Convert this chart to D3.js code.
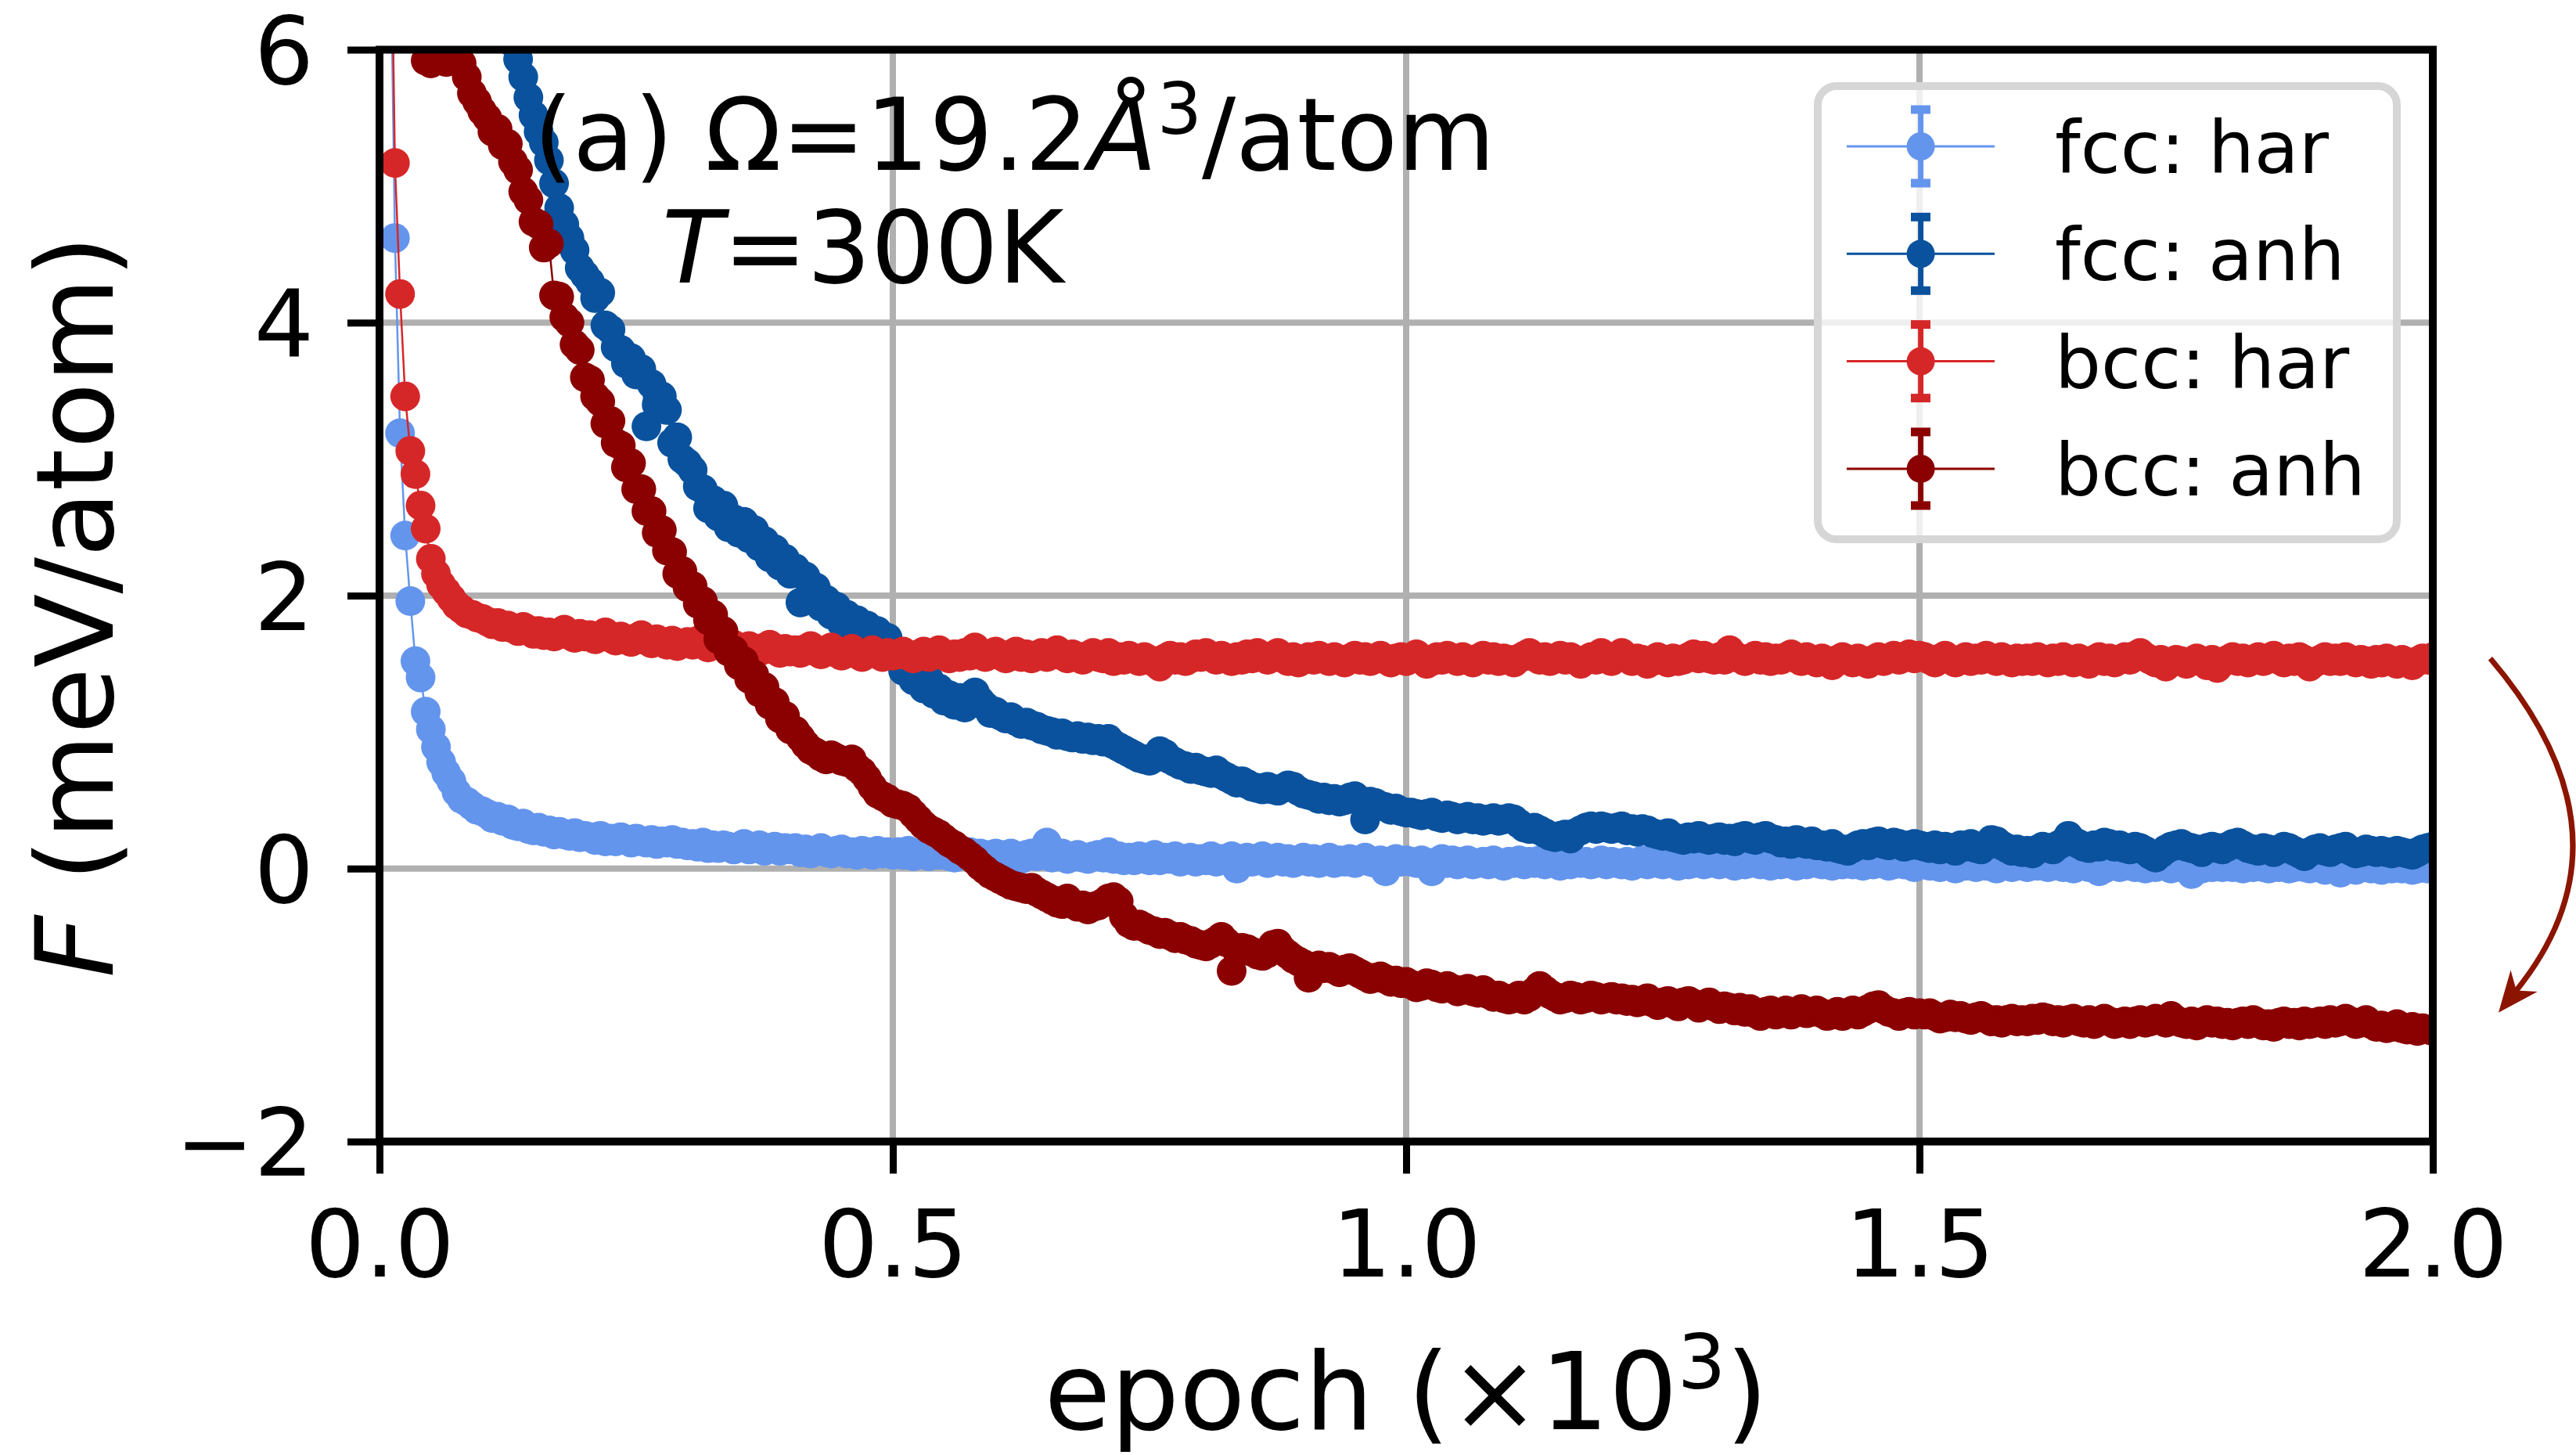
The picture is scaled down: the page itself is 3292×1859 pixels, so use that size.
<!doctype html>
<html lang="en">
<head>
<meta charset="utf-8">
<title>F vs epoch</title>
<script src="https://d3js.org/d3.v7.min.js"></script>
<style>
  body { margin: 0; background: #fff; }
  text { font-family: "DejaVu Sans", sans-serif; fill: #000; }
</style>
</head>
<body>
<script>
// epoch axis in units of 10^3, one sample every 5 epochs
const epochs = d3.range(1, 401).map(i => i * 0.005);

const fccHar = [
  14.0, 7.2, 4.62, 3.19, 2.44, 1.96, 1.52, 1.40, 1.15, 1.02, 0.89, 0.78, 0.70, 0.64, 0.56, 0.51, 0.49, 0.46, 0.43, 0.42,
  0.40, 0.37, 0.38, 0.35, 0.36, 0.32, 0.31, 0.33, 0.29, 0.28, 0.30, 0.27, 0.28, 0.25, 0.27, 0.25, 0.24, 0.26, 0.23, 0.24,
  0.23, 0.21, 0.24, 0.20, 0.22, 0.20, 0.23, 0.21, 0.19, 0.22, 0.20, 0.19, 0.21, 0.18, 0.20, 0.19, 0.21, 0.18, 0.19, 0.17,
  0.18, 0.16, 0.19, 0.15, 0.17, 0.15, 0.17, 0.16, 0.14, 0.16, 0.18, 0.14, 0.15, 0.17, 0.13, 0.15, 0.16, 0.13, 0.15, 0.14,
  0.15, 0.12, 0.14, 0.11, 0.13, 0.15, 0.12, 0.11, 0.13, 0.14, 0.11, 0.12, 0.10, 0.13, 0.12, 0.10, 0.13, 0.11, 0.12, 0.10,
  0.12, 0.10, 0.13, 0.09, 0.11, 0.12, 0.09, 0.11, 0.10, 0.12, 0.09, 0.08, 0.11, 0.10, 0.12, 0.09, 0.11, 0.10, 0.08, 0.11,
  0.10, 0.08, 0.11, 0.09, 0.07, 0.10, 0.11, 0.09, 0.10, 0.19, 0.08, 0.09, 0.11, 0.07, 0.09, 0.10, 0.08, 0.07, 0.09, 0.10,
  0.08, 0.12, 0.07, 0.09, 0.06, 0.08, 0.06, 0.09, 0.07, 0.06, 0.10, 0.06, 0.08, 0.07, 0.09, 0.05, 0.07, 0.08, 0.05, 0.07,
  0.06, 0.09, 0.05, 0.07, 0.06, 0.09, 0.00, 0.06, 0.08, 0.05, 0.07, 0.09, 0.04, 0.06, 0.08, 0.05, 0.07, 0.04, 0.06, 0.08,
  0.05, 0.07, 0.04, 0.06, 0.08, 0.04, 0.06, 0.05, 0.07, 0.04, 0.06, 0.08, 0.05, 0.04, 0.06, -0.02, 0.04, 0.07, 0.05, 0.06,
  0.05, 0.04, 0.06, 0.04, -0.02, 0.05, 0.07, 0.04, 0.06, 0.03, 0.05, 0.06, 0.03, 0.04, 0.05, 0.03, 0.06, 0.04, 0.02, 0.05,
  0.04, 0.06, 0.03, 0.05, 0.04, 0.06, 0.03, 0.05, 0.04, 0.02, 0.05, 0.03, 0.06, 0.04, 0.05, 0.03, 0.04, 0.06, 0.03, 0.05,
  0.04, 0.03, 0.05, 0.02, 0.04, 0.06, 0.03, 0.05, 0.04, 0.03, 0.05, 0.04, 0.02, 0.05, 0.03, 0.04, 0.06, 0.03, 0.04, 0.05,
  0.03, 0.05, 0.04, 0.02, 0.05, 0.03, 0.04, 0.06, 0.03, 0.04, 0.02, 0.05, 0.03, 0.04, 0.05, 0.02, 0.04, 0.03, 0.05, 0.04,
  0.03, 0.04, 0.02, 0.05, 0.03, 0.04, 0.03, 0.05, 0.02, 0.04, 0.03, 0.05, 0.04, 0.02, 0.03, 0.05, 0.03, 0.04, 0.01, 0.03,
  0.03, 0.02, 0.04, 0.01, 0.03, 0.02, 0.00, 0.03, 0.02, 0.04, 0.01, 0.03, 0.02, 0.03, 0.00, 0.02, 0.03, 0.01, 0.02, 0.03,
  0.01, 0.03, 0.02, 0.04, 0.01, 0.02, 0.03, 0.01, 0.02, 0.00, 0.03, 0.02, 0.01, 0.03, -0.02, 0.00, 0.02, 0.03, 0.01, 0.02,
  0.02, 0.01, 0.03, 0.00, 0.02, 0.01, 0.03, 0.02, 0.00, 0.02, 0.01, 0.03, -0.04, 0.02, 0.00, 0.02, 0.01, 0.03, 0.01, 0.02,
  0.01, 0.02, 0.00, 0.02, 0.01, 0.03, 0.01, 0.00, 0.02, 0.01, 0.02, 0.00, 0.01, 0.03, 0.01, 0.00, 0.02, 0.01, -0.01, 0.01,
  0.01, -0.03, 0.02, 0.01, -0.01, 0.01, 0.02, 0.00, 0.01, -0.01, 0.01, 0.00, 0.02, 0.00, 0.01, -0.01, 0.00, 0.01, 0.00, 0.01
];

const fccAnh = [
  16.0, 14.6, 13.5, 12.6, 11.8, 11.1, 10.5, 10.0, 9.5, 9.1, 8.7, 8.4, 8.1, 7.8, 7.6, 7.4, 7.2, 7.0, 6.85, 6.7,
  6.55, 6.45, 6.35, 6.25, 6.15, 6.05, 5.93, 5.80, 5.65, 5.52, 5.40, 5.32, 5.19, 5.02, 4.84, 4.72, 4.62, 4.53, 4.40, 4.35,
  4.30, 4.18, 4.22, 3.98, 3.95, 3.82, 3.80, 3.70, 3.74, 3.62, 3.66, 3.24, 3.55, 3.40, 3.46, 3.36, 3.12, 3.16, 3.00, 2.97,
  2.92, 2.80, 2.78, 2.64, 2.70, 2.58, 2.66, 2.50, 2.56, 2.46, 2.54, 2.42, 2.48, 2.36, 2.40, 2.28, 2.34, 2.22, 2.27, 2.16,
  2.20, 1.95, 2.14, 2.02, 2.06, 1.92, 1.97, 1.86, 1.92, 1.80, 1.86, 1.76, 1.82, 1.72, 1.78, 1.68, 1.74, 1.64, 1.69, 1.60,
  1.56, 1.45, 1.47, 1.38, 1.41, 1.32, 1.39, 1.28, 1.32, 1.23, 1.27, 1.20, 1.25, 1.18, 1.26, 1.29, 1.23, 1.19, 1.14, 1.15,
  1.12, 1.10, 1.11, 1.08, 1.06, 1.07, 1.05, 1.04, 1.02, 1.01, 1.00, 0.98, 0.99, 0.97, 0.96, 0.97, 0.95, 0.96, 0.94, 0.95,
  0.93, 0.95, 0.91, 0.89, 0.87, 0.85, 0.83, 0.81, 0.80, 0.79, 0.81, 0.86, 0.84, 0.80, 0.78, 0.76, 0.75, 0.73, 0.74, 0.72,
  0.71, 0.70, 0.72, 0.69, 0.67, 0.65, 0.63, 0.64, 0.62, 0.60, 0.59, 0.58, 0.60, 0.58, 0.57, 0.59, 0.61, 0.60, 0.57, 0.55,
  0.54, 0.53, 0.51, 0.52, 0.50, 0.51, 0.49, 0.50, 0.52, 0.53, 0.50, 0.36, 0.49, 0.48, 0.46, 0.45, 0.43, 0.44, 0.42, 0.41,
  0.41, 0.40, 0.39, 0.40, 0.41, 0.38, 0.37, 0.39, 0.38, 0.36, 0.37, 0.38, 0.36, 0.37, 0.35, 0.36, 0.37, 0.35, 0.36, 0.37,
  0.36, 0.33, 0.30, 0.29, 0.30, 0.28, 0.26, 0.24, 0.23, 0.24, 0.25, 0.22, 0.26, 0.28, 0.30, 0.31, 0.29, 0.31, 0.30, 0.29,
  0.30, 0.31, 0.28, 0.29, 0.27, 0.29, 0.28, 0.26, 0.25, 0.24, 0.26, 0.23, 0.22, 0.21, 0.23, 0.22, 0.24, 0.22, 0.21, 0.22,
  0.23, 0.21, 0.22, 0.20, 0.23, 0.24, 0.22, 0.21, 0.23, 0.24, 0.22, 0.21, 0.19, 0.20, 0.18, 0.21, 0.19, 0.18, 0.20, 0.17,
  0.17, 0.16, 0.18, 0.15, 0.14, 0.13, 0.15, 0.17, 0.18, 0.17, 0.19, 0.20, 0.18, 0.17, 0.19, 0.18, 0.16, 0.17, 0.18, 0.17,
  0.16, 0.15, 0.17, 0.14, 0.16, 0.15, 0.13, 0.17, 0.16, 0.18, 0.15, 0.14, 0.17, 0.21, 0.20, 0.17, 0.15, 0.13, 0.14, 0.12,
  0.13, 0.11, 0.14, 0.16, 0.15, 0.14, 0.17, 0.19, 0.24, 0.20, 0.18, 0.16, 0.15, 0.17, 0.16, 0.19, 0.18, 0.16, 0.17, 0.15,
  0.14, 0.16, 0.15, 0.13, 0.10, 0.08, 0.11, 0.14, 0.16, 0.17, 0.18, 0.16, 0.15, 0.14, 0.12, 0.15, 0.16, 0.15, 0.14, 0.16,
  0.18, 0.19, 0.17, 0.15, 0.14, 0.13, 0.15, 0.14, 0.12, 0.14, 0.16, 0.15, 0.13, 0.11, 0.09, 0.12, 0.14, 0.15, 0.13, 0.12,
  0.14, 0.15, 0.16, 0.13, 0.11, 0.12, 0.14, 0.13, 0.12, 0.13, 0.12, 0.11, 0.13, 0.12, 0.11, 0.10, 0.12, 0.14, 0.15, 0.16
];

const bccHar = [
  16.0, 7.8, 5.17, 4.21, 3.46, 3.06, 2.89, 2.66, 2.49, 2.27, 2.16, 2.08, 2.03, 1.98, 1.93, 1.90, 1.87, 1.86, 1.84, 1.83,
  1.81, 1.79, 1.80, 1.77, 1.78, 1.76, 1.74, 1.77, 1.75, 1.72, 1.74, 1.71, 1.73, 1.70, 1.72, 1.75, 1.71, 1.69, 1.72, 1.70,
  1.71, 1.68, 1.70, 1.73, 1.69, 1.67, 1.70, 1.68, 1.66, 1.69, 1.71, 1.67, 1.65, 1.68, 1.66, 1.64, 1.67, 1.63, 1.65, 1.66,
  1.64, 1.67, 1.65, 1.62, 1.64, 1.66, 1.63, 1.61, 1.64, 1.62, 1.60, 1.63, 1.61, 1.59, 1.62, 1.64, 1.60, 1.58, 1.61, 1.59,
  1.60, 1.58, 1.61, 1.63, 1.59, 1.57, 1.60, 1.62, 1.58, 1.56, 1.59, 1.61, 1.57, 1.55, 1.58, 1.60, 1.57, 1.55, 1.58, 1.56,
  1.57, 1.59, 1.56, 1.54, 1.57, 1.59, 1.55, 1.57, 1.60, 1.56, 1.54, 1.57, 1.55, 1.58, 1.56, 1.62, 1.58, 1.55, 1.57, 1.59,
  1.56, 1.54, 1.57, 1.59, 1.55, 1.57, 1.54, 1.56, 1.58, 1.55, 1.57, 1.60, 1.56, 1.54, 1.57, 1.55, 1.53, 1.56, 1.58, 1.55,
  1.54, 1.58, 1.52, 1.55, 1.53, 1.56, 1.54, 1.52, 1.55, 1.53, 1.51, 1.48, 1.54, 1.56, 1.53, 1.55, 1.52, 1.54, 1.57, 1.55,
  1.58, 1.55, 1.53, 1.56, 1.54, 1.52, 1.55, 1.53, 1.57, 1.54, 1.58, 1.55, 1.53, 1.56, 1.58, 1.54, 1.52, 1.55, 1.51, 1.53,
  1.55, 1.53, 1.56, 1.54, 1.52, 1.55, 1.53, 1.51, 1.54, 1.56, 1.53, 1.55, 1.52, 1.54, 1.56, 1.53, 1.51, 1.54, 1.55, 1.52,
  1.54, 1.57, 1.53, 1.50, 1.52, 1.55, 1.53, 1.56, 1.54, 1.52, 1.55, 1.53, 1.51, 1.54, 1.56, 1.53, 1.55, 1.52, 1.54, 1.53,
  1.51, 1.54, 1.56, 1.58, 1.55, 1.53, 1.55, 1.52, 1.54, 1.56, 1.53, 1.55, 1.53, 1.50, 1.53, 1.55, 1.53, 1.58, 1.54, 1.52,
  1.55, 1.58, 1.54, 1.52, 1.54, 1.53, 1.50, 1.52, 1.55, 1.53, 1.51, 1.54, 1.52, 1.53, 1.55, 1.57, 1.54, 1.56, 1.54, 1.53,
  1.55, 1.53, 1.60, 1.56, 1.54, 1.52, 1.54, 1.56, 1.53, 1.55, 1.52, 1.54, 1.53, 1.55, 1.57, 1.54, 1.52, 1.55, 1.53, 1.51,
  1.54, 1.52, 1.49, 1.53, 1.55, 1.53, 1.51, 1.54, 1.52, 1.50, 1.53, 1.55, 1.52, 1.54, 1.56, 1.53, 1.55, 1.57, 1.54, 1.56,
  1.55, 1.53, 1.51, 1.54, 1.56, 1.53, 1.51, 1.53, 1.55, 1.52, 1.54, 1.53, 1.56, 1.54, 1.52, 1.55, 1.53, 1.51, 1.54, 1.52,
  1.54, 1.52, 1.55, 1.53, 1.51, 1.54, 1.52, 1.55, 1.53, 1.51, 1.54, 1.52, 1.50, 1.53, 1.55, 1.52, 1.54, 1.51, 1.53, 1.55,
  1.53, 1.56, 1.58, 1.55, 1.53, 1.51, 1.53, 1.48, 1.51, 1.53, 1.52, 1.50, 1.52, 1.54, 1.52, 1.49, 1.53, 1.47, 1.51, 1.53,
  1.55, 1.52, 1.54, 1.51, 1.53, 1.55, 1.52, 1.54, 1.56, 1.53, 1.51, 1.54, 1.52, 1.55, 1.53, 1.48, 1.51, 1.53, 1.55, 1.52,
  1.54, 1.52, 1.55, 1.53, 1.51, 1.53, 1.52, 1.50, 1.53, 1.51, 1.54, 1.52, 1.50, 1.53, 1.51, 1.49, 1.52, 1.54, 1.53, 1.55
];

const bccAnh = [
  14.0, 11.5, 9.8, 8.6, 7.7, 7.0, 6.5, 6.1, 5.92, 5.90, 5.93, 5.95, 5.91, 5.93, 5.94, 5.90, 5.80, 5.68, 5.62, 5.55,
  5.50, 5.40, 5.42, 5.30, 5.31, 5.18, 5.12, 4.96, 4.90, 4.74, 4.72, 4.55, 4.58, 4.20, 4.19, 4.04, 4.00, 3.84, 3.80, 3.60,
  3.58, 3.46, 3.42, 3.26, 3.28, 3.12, 3.10, 2.94, 2.97, 2.78, 2.78, 2.62, 2.62, 2.46, 2.48, 2.33, 2.32, 2.16, 2.18, 2.06,
  2.07, 1.94, 1.96, 1.82, 1.86, 1.68, 1.74, 1.59, 1.60, 1.49, 1.52, 1.39, 1.42, 1.29, 1.33, 1.20, 1.22, 1.10, 1.12, 1.02,
  1.01, 0.96, 0.91, 0.87, 0.85, 0.82, 0.80, 0.83, 0.81, 0.79, 0.78, 0.80, 0.74, 0.71, 0.66, 0.60, 0.55, 0.53, 0.51, 0.48,
  0.47, 0.46, 0.44, 0.40, 0.36, 0.32, 0.29, 0.27, 0.25, 0.22, 0.19, 0.17, 0.14, 0.12, 0.09, 0.06, 0.02, -0.01, -0.04, -0.06,
  -0.08, -0.10, -0.12, -0.13, -0.14, -0.15, -0.14, -0.17, -0.19, -0.21, -0.23, -0.25, -0.26, -0.22, -0.26, -0.28, -0.27, -0.30, -0.28, -0.27,
  -0.25, -0.22, -0.21, -0.24, -0.35, -0.40, -0.42, -0.41, -0.43, -0.45, -0.46, -0.48, -0.47, -0.49, -0.51, -0.50, -0.52, -0.53, -0.55, -0.56,
  -0.57, -0.55, -0.53, -0.50, -0.54, -0.75, -0.60, -0.58, -0.59, -0.61, -0.63, -0.64, -0.62, -0.56, -0.55, -0.60, -0.63, -0.66, -0.68, -0.70,
  -0.80, -0.72, -0.71, -0.73, -0.72, -0.74, -0.76, -0.74, -0.73, -0.75, -0.77, -0.79, -0.81, -0.80, -0.79, -0.81, -0.83, -0.82, -0.84, -0.83,
  -0.85, -0.87, -0.86, -0.84, -0.85, -0.87, -0.88, -0.86, -0.88, -0.90, -0.89, -0.88, -0.90, -0.91, -0.89, -0.92, -0.94, -0.93, -0.95, -0.96,
  -0.95, -0.93, -0.96, -0.94, -0.90, -0.86, -0.89, -0.92, -0.94, -0.96, -0.95, -0.93, -0.94, -0.96, -0.95, -0.93, -0.94, -0.96, -0.95, -0.94,
  -0.96, -0.95, -0.97, -0.96, -0.98, -0.97, -0.95, -0.98, -1.00, -0.98, -0.97, -0.99, -1.01, -0.98, -0.97, -0.99, -1.02, -1.00, -0.98, -1.01,
  -1.03, -1.01, -1.02, -1.04, -1.02, -1.05, -1.03, -1.06, -1.08, -1.05, -1.04, -1.07, -1.06, -1.04, -1.07, -1.05, -1.03, -1.06, -1.05, -1.04,
  -1.06, -1.08, -1.07, -1.05, -1.08, -1.06, -1.04, -1.07, -1.05, -1.03, -1.01, -1.00, -1.03, -1.05, -1.06, -1.08, -1.06, -1.05, -1.07, -1.06,
  -1.07, -1.06, -1.08, -1.10, -1.09, -1.07, -1.09, -1.08, -1.10, -1.11, -1.09, -1.08, -1.10, -1.12, -1.11, -1.13, -1.11, -1.10, -1.12, -1.11,
  -1.12, -1.10, -1.11, -1.09, -1.10, -1.12, -1.11, -1.13, -1.11, -1.10, -1.12, -1.13, -1.11, -1.14, -1.12, -1.10, -1.12, -1.14, -1.13, -1.12,
  -1.14, -1.12, -1.11, -1.13, -1.12, -1.10, -1.11, -1.13, -1.08, -1.11, -1.13, -1.14, -1.12, -1.15, -1.13, -1.11, -1.13, -1.12, -1.14, -1.13,
  -1.15, -1.13, -1.12, -1.14, -1.11, -1.13, -1.15, -1.14, -1.16, -1.13, -1.12, -1.14, -1.13, -1.15, -1.12, -1.14, -1.13, -1.12, -1.14, -1.11,
  -1.13, -1.12, -1.10, -1.12, -1.14, -1.13, -1.11, -1.14, -1.16, -1.15, -1.17, -1.16, -1.14, -1.17, -1.18, -1.16, -1.19, -1.17, -1.18, -1.19
];

const seriesNames = ["fcc: har", "fcc: anh", "bcc: har", "bcc: anh"];
const seriesColors = ["#6495ed", "#0a529e", "#d62728", "#8b0000"];
const xTicks = [0, 0.5, 1.0, 1.5, 2.0];
const yTicks = [-2, 0, 2, 4, 6];

// curved arrow (data coords): from bcc har level down to bcc anh level
const arrowFrom = [2.056, 1.54], arrowBend = [2.203, 0.24], arrowTo = [2.064, -1.055];

const width = 3292, height = 1859;
const markerR = 19;
const x = d3.scaleLinear().domain([0, 2]).range([485, 3109]);
const y = d3.scaleLinear().domain([-2, 6]).range([1458.5, 63.5]);

const svg = d3.select("body").append("svg")
    .attr("width", width).attr("height", height)
    .style("background", "#fff");

svg.append("defs").append("clipPath").attr("id", "plotArea")
  .append("rect")
    .attr("x", x(0)).attr("y", y(6))
    .attr("width", x(2) - x(0)).attr("height", y(-2) - y(6));

// grid
const grid = svg.append("g").attr("stroke", "#b0b0b0").attr("stroke-width", 8);
grid.selectAll(".gx").data(xTicks).enter().append("line")
    .attr("x1", d => x(d)).attr("x2", d => x(d))
    .attr("y1", y(6)).attr("y2", y(-2));
grid.selectAll(".gy").data(yTicks).enter().append("line")
    .attr("y1", d => y(d)).attr("y2", d => y(d))
    .attr("x1", x(0)).attr("x2", x(2));

// data
const series = seriesNames.map((name, k) => ({
  name: name,
  color: seriesColors[k],
  points: [fccHar, fccAnh, bccHar, bccAnh][k].map((v, i) => [epochs[i], v])
}));

const line = d3.line().x(d => x(d[0])).y(d => y(d[1]));
const plot = svg.append("g").attr("clip-path", "url(#plotArea)");

series.forEach(s => {
  const g = plot.append("g");
  g.append("path")
      .attr("d", line(s.points))
      .attr("fill", "none")
      .attr("stroke", s.color)
      .attr("stroke-width", 2.5);
  g.selectAll("circle").data(s.points).enter().append("circle")
      .attr("cx", d => x(d[0]))
      .attr("cy", d => y(d[1]))
      .attr("r", markerR)
      .attr("fill", s.color);
});

// spines
svg.append("rect")
    .attr("x", x(0)).attr("y", y(6))
    .attr("width", x(2) - x(0)).attr("height", y(-2) - y(6))
    .attr("fill", "none").attr("stroke", "#000").attr("stroke-width", 10);

// axes
const xAxis = svg.append("g")
    .attr("transform", `translate(0,${y(-2)})`)
    .call(d3.axisBottom(x).tickValues(xTicks).tickFormat(d3.format(".1f")).tickSizeInner(41).tickSizeOuter(0));
xAxis.attr("font-family", "DejaVu Sans").attr("font-size", 120);
xAxis.select(".domain").remove();
xAxis.selectAll(".tick line").attr("stroke", "#000").attr("stroke-width", 9);
xAxis.selectAll(".tick text").attr("y", 172).attr("dy", null).attr("fill", "#000");

const yAxis = svg.append("g")
    .attr("transform", `translate(${x(0)},0)`)
    .call(d3.axisLeft(y).tickValues(yTicks).tickFormat(d3.format("d")).tickSizeInner(41).tickSizeOuter(0));
yAxis.attr("font-family", "DejaVu Sans").attr("font-size", 120);
yAxis.select(".domain").remove();
yAxis.selectAll(".tick line").attr("stroke", "#000").attr("stroke-width", 9);
yAxis.selectAll(".tick text").attr("x", -84).attr("dy", "0.36em").attr("fill", "#000");

// axis labels
const xLabel = svg.append("text")
    .attr("x", (x(0) + x(2)) / 2).attr("y", 1826)
    .attr("text-anchor", "middle").attr("font-size", 138);
xLabel.append("tspan").text("epoch (\u00d710");
xLabel.append("tspan").attr("dy", -52).attr("font-size", 97).text("3");
xLabel.append("tspan").attr("dy", 52).text(")");

const yLabel = svg.append("text")
    .attr("transform", `translate(144,${(y(6) + y(-2)) / 2 + 14}) rotate(-90)`)
    .attr("text-anchor", "middle").attr("font-size", 138);
yLabel.append("tspan").attr("font-style", "italic").text("F");
yLabel.append("tspan").text(" (meV/atom)");

// annotation
const note1 = svg.append("text").attr("x", 682).attr("y", 217).attr("font-size", 128);
note1.append("tspan").text("(a) \u03a9=19.2");
note1.append("tspan").attr("font-style", "italic").text("\u00c5");
note1.append("tspan").attr("dy", -46).attr("font-size", 90).text("3");
note1.append("tspan").attr("dy", 46).text("/atom");

const note2 = svg.append("text").attr("x", 846).attr("y", 361).attr("font-size", 128);
note2.append("tspan").attr("font-style", "italic").text("T");
note2.append("tspan").text("=300K");

// legend
const legend = svg.append("g");
legend.append("rect")
    .attr("x", 2323).attr("y", 110).attr("width", 740).attr("height", 579)
    .attr("rx", 24)
    .attr("fill", "#fff").attr("fill-opacity", 0.8)
    .attr("stroke", "#d6d6d6").attr("stroke-width", 10);

series.forEach((s, k) => {
  const cy = 187 + k * 137.3;
  const row = legend.append("g").attr("transform", `translate(0,${cy})`);
  row.append("line").attr("x1", 2360).attr("x2", 2549).attr("y1", 0).attr("y2", 0)
      .attr("stroke", s.color).attr("stroke-width", 3);
  row.append("line").attr("x1", 2454.6).attr("x2", 2454.6).attr("y1", -50).attr("y2", 50)
      .attr("stroke", s.color).attr("stroke-width", 7);
  [-47, 47].forEach(dy => {
    row.append("rect").attr("x", 2442).attr("y", dy - 5.5).attr("width", 25).attr("height", 11)
        .attr("fill", s.color);
  });
  row.append("circle").attr("cx", 2454.6).attr("cy", 0).attr("r", 18).attr("fill", s.color);
  row.append("text").attr("x", 2626).attr("y", 34).attr("font-size", 93).text(s.name);
});

// curved arrow at right
const p0 = [x(arrowFrom[0]), y(arrowFrom[1])];
const pc = [x(arrowBend[0]), y(arrowBend[1])];
const p2 = [x(arrowTo[0]), y(arrowTo[1])];
let dx = p2[0] - pc[0], dy = p2[1] - pc[1];
const len = Math.hypot(dx, dy);
dx /= len; dy /= len;
const headLen = 52, headHalf = 22;
const shaftEnd = [p2[0] - dx * 36, p2[1] - dy * 36];
const arrowColor = "#8b1500";
svg.append("path")
    .attr("d", `M${p0[0]},${p0[1]} Q${pc[0]},${pc[1]} ${shaftEnd[0]},${shaftEnd[1]}`)
    .attr("fill", "none").attr("stroke", arrowColor).attr("stroke-width", 7);
const base = [p2[0] - dx * headLen, p2[1] - dy * headLen];
svg.append("path")
    .attr("d", `M${p2[0]},${p2[1]} L${base[0] - dy * headHalf},${base[1] + dx * headHalf} L${p2[0] - dx * headLen * 0.7},${p2[1] - dy * headLen * 0.7} L${base[0] + dy * headHalf},${base[1] - dx * headHalf} Z`)
    .attr("fill", arrowColor);
</script>
</body>
</html>
